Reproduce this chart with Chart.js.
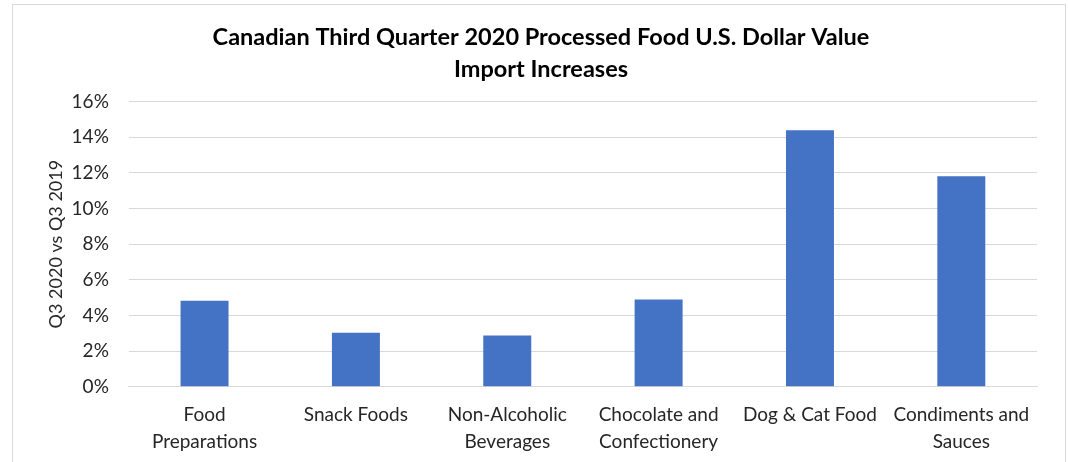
<!DOCTYPE html>
<html>
<head>
<meta charset="utf-8">
<script src="https://cdn.jsdelivr.net/npm/chart.js@4"></script>
<style>
  html, body { margin: 0; padding: 0; background: #fff; }
  #wrap { position: relative; width: 1068px; height: 462px; overflow: hidden; }
  #frame { position: absolute; left: 12px; top: 4px; width: 1052px; height: 470px; border: 1px solid #d9d9d9; }
  #chart { position: absolute; left: 0; top: 0; }
</style>
</head>
<body>
<div id="wrap">
  <div id="frame"></div>
  <canvas id="chart" width="1068" height="462"></canvas>
</div>
<script>
// ---- data ----
const categories = [
  ["Food", "Preparations"],
  "Snack Foods",
  ["Non-Alcoholic", "Beverages"],
  ["Chocolate and", "Confectionery"],
  "Dog & Cat Food",
  ["Condiments and", "Sauces"]
];
const increases = [4.83, 3.03, 2.87, 4.89, 14.38, 11.8];
const yMin = 0;
const yMax = 16;
const yStep = 2;

const fontFamily = "Lato, 'Open Sans', sans-serif";

const ctx = document.getElementById("chart");
const chart = new Chart(ctx, {
  type: "bar",
  data: {
    labels: categories,
    datasets: [{
      label: "Q3 2020 vs Q3 2019",
      data: increases,
      backgroundColor: "#4472c4",
      barPercentage: 0.317,
      categoryPercentage: 1.0
    }]
  },
  options: {
    responsive: false,
    animation: false,
    layout: { padding: { left: 45, right: 31, top: 22, bottom: 0 } },
    plugins: {
      legend: { display: false },
      tooltip: { enabled: false },
      title: {
        display: true,
        text: ["Canadian Third Quarter 2020 Processed Food U.S. Dollar Value", "Import Increases"],
        color: "#000",
        font: { family: fontFamily, size: 23.5, weight: "bold", lineHeight: 1.35 },
        padding: { top: 0, bottom: 16 }
      }
    },
    scales: {
      x: {
        grid: { display: false },
        border: { color: "#d9d9d9", width: 1 },
        ticks: {
          color: "#262626",
          font: { family: fontFamily, size: 19, lineHeight: 1.4 },
          maxRotation: 0,
          autoSkip: false,
          padding: 7
        }
      },
      y: {
        min: yMin,
        max: yMax,
        grid: { color: "#d9d9d9", lineWidth: 1, drawTicks: false },
        border: { display: false },
        ticks: {
          stepSize: yStep,
          color: "#262626",
          font: { family: fontFamily, size: 19 },
          padding: 20,
          callback: v => v + "%"
        },
        title: {
          display: true,
          text: "Q3 2020 vs Q3 2019",
          color: "#262626",
          font: { family: fontFamily, size: 18 },
          padding: { top: 0, bottom: -15 }
        }
      }
    }
  }
});
</script>
</body>
</html>
